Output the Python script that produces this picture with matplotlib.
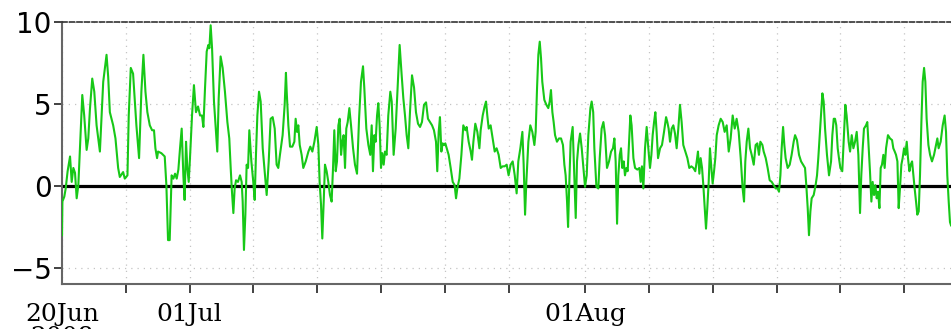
import matplotlib
matplotlib.use("Agg")
import matplotlib.pyplot as plt

# time axis: days since the left edge of the plot (20Jun 2008)
days = [
 0.00,0.03,0.18,0.29,0.44,0.63,0.76,0.89,1.02,1.15,1.28,1.41,1.59,1.74,1.93,2.06,2.19,2.37,2.53,2.71,2.97,3.23,3.49,3.62,3.75,4.01,4.19,4.40,4.53,4.79,4.92,5.13,5.23,5.39,5.57,5.83,6.04,6.22,6.38,6.54,6.69,6.88,7.06,7.21,7.32,7.45,7.53,7.79,8.05,8.18,8.31,8.44,
 8.59,8.73,8.86,8.99,9.12,9.25,9.38,9.51,9.61,9.72,9.82,9.93,10.03,10.19,10.34,10.50,10.66,10.82,10.97,11.08,11.21,11.34,11.47,11.55,11.65,11.76,11.91,12.07,12.17,12.28,12.43,12.59,12.77,12.96,13.11,13.22,13.32,13.43,13.53,13.64,13.79,13.95,14.08,14.16,14.26,14.37,14.47,14.58,14.68,14.84,14.99,15.10,15.20,15.31,15.44,15.57,15.73,15.91,16.04,16.20,16.35,16.51,16.67,16.82,16.95,17.08,17.29,17.45,17.55,
 17.61,17.74,17.87,18.05,18.21,18.31,18.42,18.52,18.63,18.78,18.91,19.10,19.31,19.46,19.62,19.78,19.96,20.09,20.19,20.30,20.40,20.51,20.61,20.74,20.87,21.00,21.13,21.24,21.34,21.45,21.55,21.66,21.76,21.87,21.97,22.07,22.18,22.28,22.39,22.52,22.65,22.81,22.96,23.12,23.28,23.43,23.59,23.69,23.85,24.01,24.16,24.27,24.37,24.48,24.58,24.69,24.79,24.89,25.00,25.10,25.21,25.31,25.44,25.57,25.73,25.84,25.99,26.15,26.31,26.46,
 26.62,26.75,26.88,27.01,27.14,27.27,27.43,27.59,27.74,27.90,28.06,28.21,28.37,28.53,28.68,28.84,29.00,29.15,29.31,29.41,29.52,29.62,29.73,29.83,29.94,30.04,30.15,30.30,30.46,30.62,30.77,30.88,30.98,31.14,31.30,31.45,31.61,31.71,31.87,32.03,32.13,32.24,32.39,32.55,32.71,32.81,32.97,33.12,33.23,33.33,33.44,33.59,33.75,33.91,34.06,34.22,34.38,34.53,34.69,34.85,35.00,35.16,35.32,35.48,
 35.63,35.76,35.92,36.08,36.18,36.29,36.39,36.55,36.70,36.86,37.02,37.12,37.23,37.33,37.44,37.54,37.64,37.80,37.96,38.11,38.22,38.32,38.43,38.53,38.64,38.79,38.95,39.11,39.26,39.37,39.47,39.58,39.66,39.76,39.86,40.02,40.15,40.26,40.36,40.47,40.60,40.73,40.86,40.99,41.12,41.25,41.41,41.51,41.63,41.72,41.88,42.03,42.14,42.29,42.43,42.56,42.71,42.87,43.03,43.18,43.29,43.39,43.50,43.60,43.71,43.81,43.91,44.02,44.12,44.23,44.33,44.44,44.54,
 44.64,44.78,44.91,45.09,45.25,45.35,45.45,45.56,45.69,45.82,45.95,46.08,46.19,46.29,46.40,46.50,46.60,46.71,46.87,47.02,47.18,47.34,47.44,47.54,47.65,47.78,47.91,48.04,48.17,48.30,48.43,48.56,48.69,48.85,49.01,49.16,49.32,49.48,49.63,49.74,49.84,49.95,50.05,50.16,50.26,50.37,50.47,50.57,50.68,50.78,50.89,50.99,51.10,51.20,51.31,51.46,51.62,51.78,51.93,52.09,52.25,52.40,52.56,52.72,52.87,53.03,53.19,53.34,53.45,53.55,
 53.66,53.79,53.92,54.05,54.21,54.36,54.49,54.62,54.73,54.89,54.99,55.15,55.30,55.46,55.62,55.77,55.93,56.09,56.19,56.30,56.40,56.51,56.61,56.71,56.87,57.03,57.18,57.34,57.45,57.60,57.76,57.92,58.07,58.23,58.33,58.44,58.54,58.65,58.75,58.91,59.06,59.17,59.27,59.38,59.48,59.59,59.69,59.80,59.95,60.11,60.27,60.37,60.48,60.58,60.68,60.79,60.89,61.00,61.15,
 61.39,61.49,61.65,61.76,61.89,62.02,62.15,62.28,62.41,62.54,62.64,62.75,62.85,63.01,63.11,63.22,63.32,63.43,63.53,63.64,63.74,63.85,63.95,64.06,64.16,64.26,64.37,64.47,64.58,64.73,64.89,65.05,65.15,65.26,65.36,65.47,65.57,65.67,65.78,65.88,65.99,66.09,66.20,66.30,66.41,66.51,66.62,66.72,66.82,66.93,67.03,67.14,67.24,67.35,67.45,67.56,67.66,67.76,67.90,68.03,68.18,68.34,68.50,68.60,68.70,68.86,69.02,69.17,69.28,69.38,69.49,69.59,69.67,
]

values = [
 -3.0,-0.95,-0.65,-0.15,0.9,1.8,0.25,1.1,0.8,-0.75,0.05,2.3,5.55,4.3,2.2,2.9,4.7,6.55,5.75,3.7,2.1,6.35,8.0,6.65,4.5,3.7,2.9,1.1,0.55,0.85,0.45,0.65,4.3,7.2,6.85,3.7,1.7,5.75,8.0,5.75,4.5,3.7,3.4,3.4,2.3,1.7,2.1,2.0,1.8,0.05,-3.3,-3.3,
 0.65,0.45,0.75,0.45,1.0,2.3,3.5,0.65,-0.85,2.7,1.1,0.25,1.7,4.3,6.15,4.5,4.85,4.3,4.3,3.6,6.0,8.2,8.6,8.4,9.8,8.4,5.15,3.3,2.1,5.35,7.9,7.2,5.75,3.9,2.9,1.1,-0.35,-1.65,-0.15,0.35,0.25,0.65,0.25,-0.95,-3.9,-1.75,1.3,1.1,3.4,1.5,0.25,-0.85,1.9,4.3,5.75,5.15,2.3,0.65,-0.55,1.5,4.1,4.2,3.5,1.3,1.1,1.9,3.1,4.95,6.9,
 5.75,3.7,2.4,2.4,2.7,4.1,3.3,3.7,2.5,1.9,1.1,1.5,2.1,2.4,2.1,2.7,3.6,2.5,0.25,-1.15,-3.2,-0.95,1.3,0.9,0.25,-0.55,-0.95,1.1,3.4,0.9,1.5,3.7,4.1,1.9,2.7,3.1,1.1,3.5,3.9,4.75,3.7,2.3,1.3,0.75,4.1,6.35,7.3,6.0,3.5,2.5,1.9,3.7,0.9,3.1,2.7,4.3,5.05,3.7,1.1,2.0,1.3,2.1,1.9,4.3,5.75,5.15,1.9,3.5,6.15,8.6,
 6.75,5.35,4.3,3.1,2.3,4.5,6.75,6.0,4.5,3.8,3.6,3.9,4.95,5.1,4.1,3.9,3.7,3.4,2.7,0.9,3.3,4.2,2.1,2.6,2.5,2.6,2.3,1.9,1.1,0.25,0.05,-0.75,-0.15,0.45,1.9,3.7,3.4,3.6,2.7,2.1,1.6,2.7,3.8,3.3,2.3,3.4,4.3,4.85,5.15,4.3,3.5,3.7,2.9,2.1,2.3,1.9,1.1,1.2,1.2,1.3,0.65,1.3,1.5,0.65,
 -0.45,1.5,2.3,3.3,1.3,-1.75,0.25,2.7,3.7,3.3,2.5,3.3,6.0,8.0,8.8,7.8,6.35,5.25,4.95,4.75,5.15,5.85,4.5,3.9,3.1,2.7,2.9,2.9,2.5,1.3,0.65,-0.95,-2.5,0.25,2.7,3.6,0.65,-1.95,1.5,2.5,3.2,2.3,1.1,-0.05,0.65,3.1,4.75,5.15,4.5,2.3,-0.05,-0.15,1.7,3.5,3.9,3.1,1.1,1.5,2.1,2.3,2.9,1.5,-2.3,0.65,1.9,2.3,1.1,1.5,0.65,1.1,0.9,2.7,4.3,
 3.7,1.7,1.1,1.0,1.1,0.25,1.2,-0.15,2.3,3.6,2.3,1.1,1.9,3.1,3.9,4.5,3.3,1.7,2.3,2.5,3.3,4.2,3.9,3.5,2.7,3.5,3.7,3.2,2.3,3.5,4.95,3.9,2.5,2.1,1.7,1.1,1.2,1.1,0.9,1.5,2.1,0.75,1.7,1.1,0.05,-1.35,-2.6,-1.35,0.25,2.3,1.1,0.15,0.9,1.7,3.1,3.7,4.1,3.9,3.3,3.7,2.1,2.9,4.3,3.5,4.1,3.3,1.7,-0.15,-0.95,1.5,
 2.7,3.5,2.3,1.9,1.3,2.5,2.6,1.9,2.7,2.5,2.1,1.7,1.1,0.35,0.25,0.05,-0.15,-0.15,-0.35,0.65,2.3,3.6,2.5,1.7,1.1,1.3,1.9,2.7,3.1,2.8,1.9,1.5,1.3,1.1,0.05,-1.35,-3.0,-1.55,-0.75,-0.55,0.05,0.65,1.7,3.1,4.3,5.65,5.15,3.5,1.9,0.65,1.5,3.1,4.1,4.1,3.7,2.3,1.7,1.1,0.9,
 4.95,4.3,2.7,2.1,3.1,2.3,2.7,3.3,1.9,-1.65,0.65,2.3,3.5,3.7,3.9,2.3,0.9,-0.95,0.25,-0.55,0.05,-0.75,-0.35,-1.35,1.1,1.3,1.9,1.1,2.3,3.1,2.9,2.8,2.3,2.1,1.9,1.5,-1.35,-0.15,1.3,1.7,2.3,1.9,2.7,1.7,0.9,1.3,1.5,0.65,-0.15,-0.95,-1.75,-1.55,0.65,3.9,6.35,7.2,6.35,4.1,2.5,1.9,1.5,1.9,2.5,2.9,2.3,2.7,3.7,4.3,3.3,0.65,-0.95,-2.2,-2.4,
]

tick_days = [0, 5, 10, 15, 20, 25, 30, 35, 41, 46, 51, 56, 61, 66]
tick_labels = ["20Jun\n2008", "", "01Jul", "", "", "", "", "", "01Aug", "", "", "", "", ""]
y_ticks = [-5, 0, 5, 10]

fig = plt.figure(figsize=(9.51, 3.29), dpi=100)
ax = fig.add_axes([62 / 951, 44.6 / 329, 889 / 951, 262.4 / 329])

ax.axhline(0, color="black", lw=2.3, zorder=2)
ax.plot(days, values, color="#17c817", lw=1.5, zorder=3)

ax.set_xlim(0, 69.67)
ax.set_ylim(-6, 10)

ax.set_xticks(tick_days)
ax.set_xticklabels(tick_labels, fontfamily="DejaVu Serif", fontsize=18)
for lbl in ax.get_xticklabels():
    lbl.set_linespacing(1.0)
ax.set_yticks(y_ticks)
ax.set_yticklabels([f"{v}".replace("-", "\u2212") for v in y_ticks],
                   fontfamily="DejaVu Sans", fontsize=20)

ax.tick_params(axis="x", direction="out", length=6.5, width=1.3, color="#333333", pad=7)
ax.tick_params(axis="y", direction="out", length=6, width=1.3, color="#333333", pad=1.5)
ax.xaxis.get_major_ticks()[0].tick1line.set_visible(False)

ax.grid(True, linestyle=(0, (1, 4)), color="#c4c4c4", lw=0.9, zorder=1)

for s in ("left", "bottom"):
    ax.spines[s].set_color("#666666")
    ax.spines[s].set_linewidth(1.5)
ax.spines["right"].set_visible(False)
ax.spines["top"].set_color("#333333")
ax.spines["top"].set_linewidth(1.2)
ax.spines["top"].set_linestyle((0, (3, 1.5)))

fig.savefig("out.png", dpi=100)
